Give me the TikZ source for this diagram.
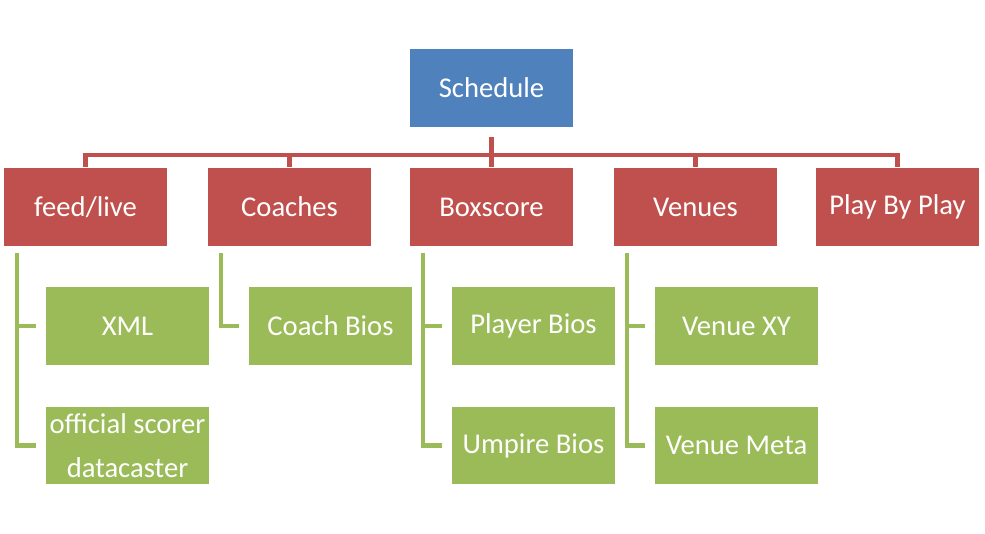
\documentclass[tikz,border=0pt]{standalone}
\usepackage{fontspec}
\setmainfont{Carlito}
\usepackage{tikz}
\usetikzlibrary{calc}
\definecolor{sblue}{HTML}{4F81BD}
\definecolor{sred}{HTML}{C0504D}
\definecolor{sgreen}{HTML}{9BBB59}

\begin{document}
\begin{tikzpicture}[x=0.02cm,y=-0.02cm,
    card/.style={rectangle,draw=white,line width=0.6pt,minimum width=3.28cm,minimum height=1.58cm,
      text=white,font=\fontsize{16.3}{19}\selectfont,align=center,inner sep=1pt},
    top/.style={card,fill=sblue},
    mid/.style={card,fill=sred},
    leaf/.style={card,fill=sgreen},
    redline/.style={draw=sred,line width=2.3pt},
    greenline/.style={draw=sgreen,line width=2.3pt}]
              \useasboundingbox (0,0) rectangle (985,534);
              % top
              \node[top](sched)at(491.5,88){Schedule};
              % second row
              \node[mid](feed)at(85.5,207){feed/live};
              \node[mid](coach)at(289.5,207){Coaches};
              \node[mid](box)at(491.5,207){Boxscore};
              \node[mid](venue)at(695.5,207){Venues};
              \node[mid](pbp)at(897.5,207){Play By Play};
              % leaves
              \node[leaf](xml)at(127.5,326){XML};
              \node[leaf](scorer)at(127.5,445.5){official scorer\\[6pt]datacaster};
              \node[leaf](cbios)at(330.5,326){Coach Bios};
              \node[leaf](pbios)at(533.5,326){Player Bios};
              \node[leaf](ubios)at(533.5,445.5){Umpire Bios};
              \node[leaf](vxy)at(736.5,326){Venue XY};
              \node[leaf](vmeta)at(736.5,445.5){Venue Meta};
              % bus
              \coordinate(bus)at(491.5,155);
              \draw[redline,shorten <=5](sched.south)--(bus);
              \draw[redline](bus)-|(feed.north);
              \draw[redline](bus)-|(coach.north);
              \draw[redline](bus)--(box.north);
              \draw[redline](bus)-|(venue.north);
              \draw[redline](bus)-|(pbp.north);
              % branches
              \draw[greenline,shorten >=5]($(feed.south west)+(14,6)$)|-(xml.west);
              \draw[greenline,shorten >=5]($(feed.south west)+(14,6)$)|-(scorer.west);
              \draw[greenline,shorten >=5]($(coach.south west)+(14,6)$)|-(cbios.west);
              \draw[greenline,shorten >=5]($(box.south west)+(14,6)$)|-(pbios.west);
              \draw[greenline,shorten >=5]($(box.south west)+(14,6)$)|-(ubios.west);
              \draw[greenline,shorten >=5]($(venue.south west)+(14,6)$)|-(vxy.west);
              \draw[greenline,shorten >=5]($(venue.south west)+(14,6)$)|-(vmeta.west);
            \end{tikzpicture}
\end{document}
